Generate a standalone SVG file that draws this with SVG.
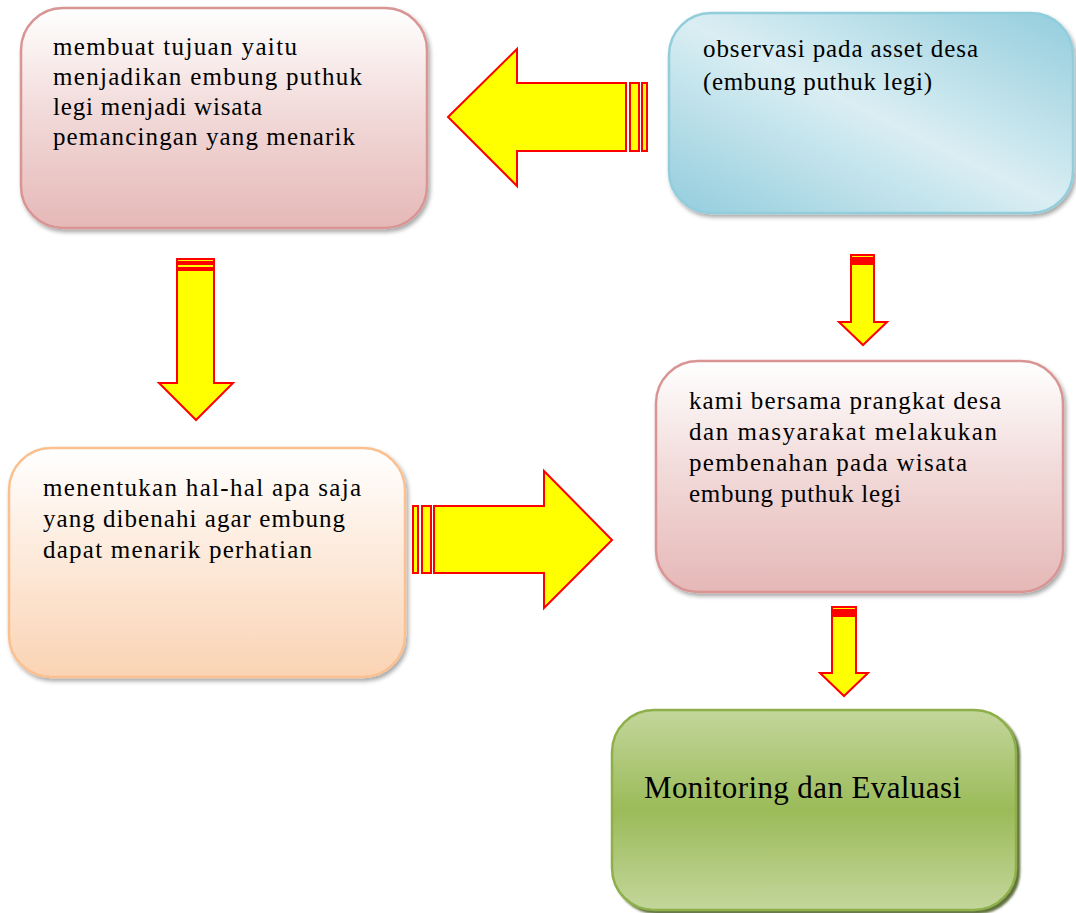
<svg xmlns="http://www.w3.org/2000/svg" width="1076" height="913" viewBox="0 0 1076 913">
<style>
.t{font-family:"Liberation Serif","Times New Roman",serif;font-size:25px;fill:#000}
.t5{font-family:"Liberation Serif","Times New Roman",serif;font-size:31px;fill:#000}
.arr{fill:#ffff00;stroke:#ff0000;stroke-width:2;stroke-linejoin:miter}
</style>
<defs>
<linearGradient id="gPink" x1="0" y1="0" x2="0" y2="1">
<stop offset="0" stop-color="#ffffff"/>
<stop offset="0.45" stop-color="#f2dcdb"/>
<stop offset="1" stop-color="#e5b8b7"/>
</linearGradient>
<linearGradient id="gPeach" x1="0" y1="0" x2="0" y2="1">
<stop offset="0" stop-color="#ffffff"/>
<stop offset="0.5" stop-color="#fde9d9"/>
<stop offset="1" stop-color="#fad3b3"/>
</linearGradient>
<linearGradient id="gBlue" x1="0" y1="1" x2="1" y2="0">
<stop offset="0" stop-color="#93cddd"/>
<stop offset="0.5" stop-color="#daeef3"/>
<stop offset="1" stop-color="#93cddd"/>
</linearGradient>
<linearGradient id="gGreen" x1="0" y1="0" x2="0" y2="1">
<stop offset="0" stop-color="#c3d69b"/>
<stop offset="0.5" stop-color="#9bbb59"/>
<stop offset="1" stop-color="#c3d69b"/>
</linearGradient>
<filter id="sh" x="-10%" y="-10%" width="120%" height="130%">
<feDropShadow dx="2" dy="3" stdDeviation="2" flood-color="#000" flood-opacity="0.35"/>
</filter>
<filter id="shG" x="-10%" y="-10%" width="120%" height="130%">
<feDropShadow dx="3" dy="3" stdDeviation="1" flood-color="#4f6228" flood-opacity="0.9"/>
</filter>
</defs>

<g id="node1">
<rect x="21" y="8" width="406" height="220" rx="42" fill="url(#gPink)" stroke="#d99594" stroke-width="2.5" filter="url(#sh)"/>
<text class="t" x="53" y="55" textLength="244" lengthAdjust="spacing">membuat tujuan yaitu</text>
<text class="t" x="53" y="85" textLength="309" lengthAdjust="spacing">menjadikan embung puthuk</text>
<text class="t" x="53" y="115" textLength="209" lengthAdjust="spacing">legi menjadi wisata</text>
<text class="t" x="53" y="145" textLength="302" lengthAdjust="spacing">pemancingan yang menarik</text>
</g>

<g id="node2">
<rect x="669" y="13" width="404" height="200" rx="42" fill="url(#gBlue)" stroke="#92cddc" stroke-width="2.5" filter="url(#sh)"/>
<text class="t" x="703" y="57" textLength="275" lengthAdjust="spacing">observasi pada asset desa</text>
<text class="t" x="703" y="90" textLength="229" lengthAdjust="spacing">(embung puthuk legi)</text>
</g>

<g id="node3">
<rect x="9" y="448" width="396" height="229" rx="42" fill="url(#gPeach)" stroke="#fac08f" stroke-width="2.5" filter="url(#sh)"/>
<text class="t" x="43" y="496" textLength="318" lengthAdjust="spacing">menentukan hal-hal apa saja</text>
<text class="t" x="43" y="527" textLength="302" lengthAdjust="spacing">yang dibenahi agar embung</text>
<text class="t" x="43" y="558" textLength="269" lengthAdjust="spacing">dapat menarik perhatian</text>
</g>

<g id="node4">
<rect x="656" y="361" width="407" height="231" rx="42" fill="url(#gPink)" stroke="#d99594" stroke-width="2.5" filter="url(#sh)"/>
<text class="t" x="689" y="409" textLength="312" lengthAdjust="spacing">kami bersama prangkat desa</text>
<text class="t" x="689" y="440" textLength="308" lengthAdjust="spacing">dan masyarakat melakukan</text>
<text class="t" x="689" y="471" textLength="278" lengthAdjust="spacing">pembenahan pada wisata</text>
<text class="t" x="689" y="502" textLength="212" lengthAdjust="spacing">embung puthuk legi</text>
</g>

<g id="node5">
<rect x="612" y="710" width="404" height="200" rx="42" fill="url(#gGreen)" stroke="#8db04a" stroke-width="2.5" filter="url(#shG)"/>
<text class="t5" x="644" y="798" textLength="317" lengthAdjust="spacing">Monitoring dan Evaluasi</text>
</g>

<g id="connectors">
<g id="arrow-2-1">
<polygon class="arr" points="448,117 517,49 517,83 626,83 626,151 517,151 517,186"/>
<rect class="arr" x="630" y="83" width="9" height="68"/>
<rect class="arr" x="642" y="83" width="5" height="68"/>
</g>
<g id="arrow-1-3">
<rect class="arr" x="177" y="259" width="37" height="3"/>
<rect class="arr" x="177" y="264" width="37" height="4"/>
<polygon class="arr" points="177,270 214,270 214,383 233,383 196,420 159,383 177,383"/>
</g>
<g id="arrow-3-4">
<rect class="arr" x="413" y="506" width="5" height="67"/>
<rect class="arr" x="422" y="506" width="9" height="67"/>
<polygon class="arr" points="434,506 544,506 544,471 612,540 544,608 544,573 434,573"/>
</g>
<g id="arrow-2-4">
<rect class="arr" x="851" y="255" width="23" height="3"/>
<rect class="arr" x="851" y="260" width="23" height="2"/>
<polygon class="arr" points="851,264 874,264 874,322 887,322 863,345 839,322 851,322"/>
</g>
<g id="arrow-4-5">
<rect class="arr" x="832" y="607" width="24" height="3"/>
<rect class="arr" x="832" y="612" width="24" height="2"/>
<polygon class="arr" points="832,616 856,616 856,673 868,673 844,696 820,673 832,673"/>
</g>
</g>
</svg>
